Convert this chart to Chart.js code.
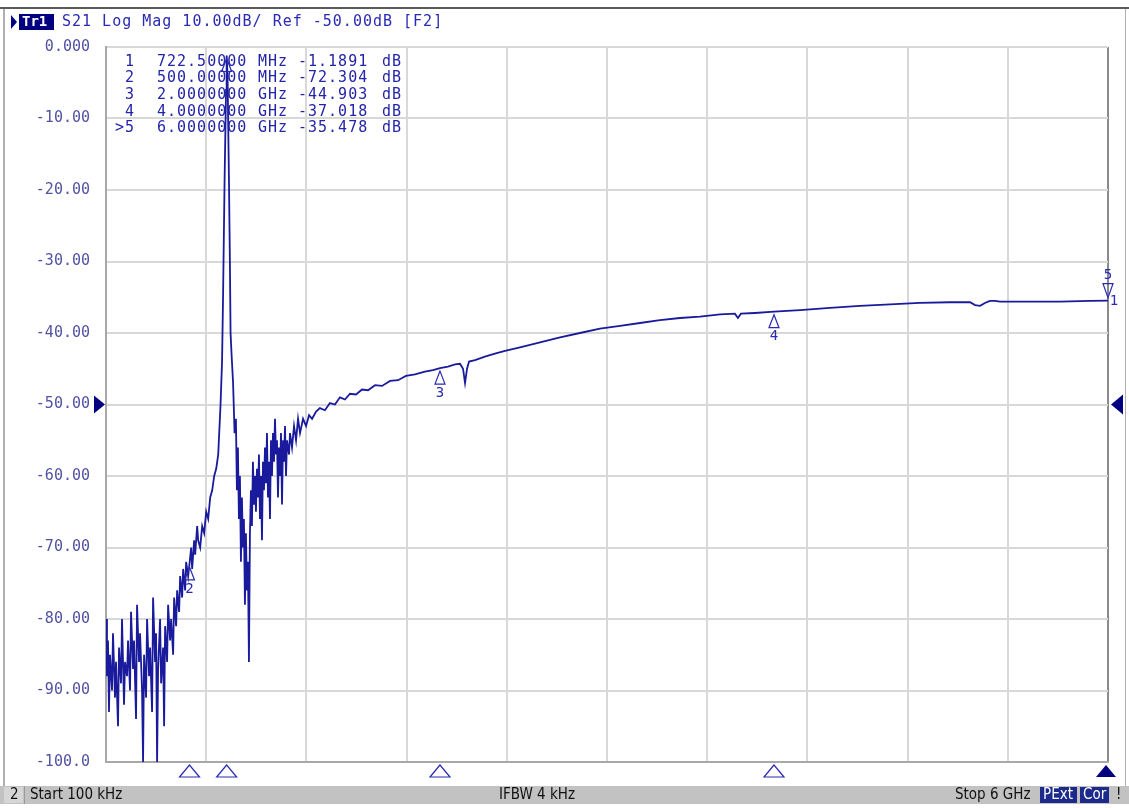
<!DOCTYPE html>
<html>
<head>
<meta charset="utf-8">
<script src="https://cdn.jsdelivr.net/npm/chart.js@4.4.1/dist/chart.umd.min.js"></script>
<style>
  html, body { margin: 0; padding: 0; background: #fff; }
  canvas { display: block; }
</style>
</head>
<body>
<canvas id="vna" width="1129" height="808"></canvas>
<script>
// S21 sweep, 100 kHz .. 6 GHz (frequency in MHz, magnitude in dB)
const freqMHz = [
  0.1, 6, 12, 18, 24, 36, 42, 54, 60, 72,
  78, 90, 96, 108, 114, 126, 132, 144, 150, 162,
  168, 180, 186, 198, 204, 216, 222, 228, 240, 246,
  258, 264, 276, 282, 294, 300, 306, 312, 324, 330,
  342, 348, 354, 366, 372, 384, 390, 402, 408, 420,
  426, 438, 444, 456, 462, 474, 480, 492, 500, 510,
  516, 528, 534, 546, 552, 564, 576, 588, 600, 612,
  624, 636, 648, 660, 672, 678, 686, 695, 701, 710,
  719, 722.5, 728, 736, 742, 746, 752, 761, 770, 778,
  784, 790, 796, 802, 808, 814, 820, 826, 832, 838,
  844, 850, 856, 862, 868, 874, 880, 886, 892, 898,
  904, 910, 916, 922, 928, 934, 940, 946, 952, 958,
  964, 970, 976, 982, 988, 994, 1000, 1006, 1012, 1018,
  1024, 1030, 1036, 1042, 1048, 1054, 1060, 1066, 1072, 1078,
  1084, 1096, 1102, 1114, 1126, 1138, 1150, 1162, 1180, 1198,
  1216, 1234, 1258, 1281, 1311, 1341, 1371, 1401, 1431, 1461,
  1497, 1533, 1569, 1611, 1653, 1701, 1749, 1796, 1850, 1910,
  1958, 2000, 2048, 2090, 2120, 2138, 2150, 2162, 2174, 2210,
  2269, 2329, 2389, 2479, 2599, 2719, 2838, 2958, 3078, 3198,
  3317, 3437, 3557, 3677, 3766, 3784, 3802, 3886, 4000, 4156,
  4335, 4515, 4695, 4874, 5054, 5174, 5204, 5234, 5263, 5293,
  5323, 5353, 5533, 5713, 5892, 6000
];
const s21dB = [
  -80, -88, -83, -93, -85, -90, -82, -91, -86, -95,
  -84, -89, -80, -92, -86, -88, -83, -90, -79, -87,
  -83, -94, -78, -86, -82, -90, -100, -85, -91, -80,
  -88, -84, -93, -77, -86, -82, -100, -87, -80, -89,
  -84, -95, -81, -86, -78, -83, -80, -85, -77, -81,
  -76, -79, -74, -77, -73, -76, -72, -74, -72.3, -70,
  -73, -69, -71, -67, -69, -70, -67, -68, -65, -66,
  -63, -62, -60, -59, -57, -54, -50, -44, -35, -19,
  -6, -1.19, -4, -18, -30, -40, -43, -47, -54, -52,
  -62, -56, -66, -60, -72, -63, -70, -66, -78, -68,
  -76, -72, -86, -68, -62, -67, -58, -64, -60, -65,
  -59, -63, -57, -66, -60, -69, -58, -62, -56, -61,
  -54, -63, -58, -66, -55, -60, -54, -58, -52, -57,
  -55, -63, -56, -60, -54, -64, -55, -58, -53, -60,
  -55, -57, -54, -56, -53, -55, -52, -54, -52, -53,
  -51.5, -52, -51, -50.5, -50.8, -49.8, -50, -49, -49.3, -48.5,
  -48.6, -47.9, -48, -47.3, -47.4, -46.7, -46.6, -46, -45.8, -45.4,
  -45.2, -44.9, -44.7, -44.4, -44.3, -45, -47, -45, -44, -43.8,
  -43.3, -42.9, -42.5, -42, -41.3, -40.6, -40, -39.4, -39, -38.6,
  -38.2, -37.9, -37.7, -37.4, -37.3, -37.9, -37.3, -37.2, -37.02, -36.8,
  -36.5, -36.2, -36, -35.8, -35.7, -35.7, -36.1, -36.2, -35.8, -35.5,
  -35.5, -35.6, -35.6, -35.6, -35.5, -35.478
];

// axis
const xGridMHz = [0.1, 600, 1200, 1800, 2400, 3000, 3600, 4200, 4800, 5400, 6000];
const yTickLabels = ['0.000', '-10.00', '-20.00', '-30.00', '-40.00', '-50.00',
                     '-60.00', '-70.00', '-80.00', '-90.00', '-100.0'];
const refLevelDB = -50;

// markers
const markerNo  = ['1', '2', '3', '4', '5'];
const markerMHz = [722.5, 500, 2000, 4000, 6000];
const markerDB  = [-1.1891, -72.304, -44.903, -37.018, -35.478];
const markerFreqText = ['722.50000', '500.00000', '2.0000000', '4.0000000', '6.0000000'];
const markerUnit = ['MHz', 'MHz', 'GHz', 'GHz', 'GHz'];
const activeMarker = 4;

const headerText = 'S21 Log Mag 10.00dB/ Ref -50.00dB [F2]';
const statusTexts = { ch: '2', start: 'Start 100 kHz', ifbw: 'IFBW 4 kHz', stop: 'Stop 6 GHz' };

const TRACE = '#1a1a9c';
const MONO = '"DejaVu Sans Mono", monospace';
const NARROW = '"Liberation Sans Narrow", "DejaVu Sans Condensed", sans-serif';

function tri(ctx, pts, fill) {
  ctx.beginPath();
  ctx.moveTo(pts[0], pts[1]);
  ctx.lineTo(pts[2], pts[3]);
  ctx.lineTo(pts[4], pts[5]);
  ctx.closePath();
  if (fill) { ctx.fill(); } else { ctx.stroke(); }
}

const vnaScreen = {
  id: 'vnaScreen',
  beforeDraw(chart) {
    const ctx = chart.ctx;
    ctx.save();
    ctx.fillStyle = '#fff';
    ctx.fillRect(0, 0, chart.width, chart.height);

    // window frame
    ctx.fillStyle = '#5a5a5a';
    ctx.fillRect(0, 7, chart.width, 2);
    ctx.fillStyle = '#b0b0b0';
    ctx.fillRect(3, 9, 2, 777);
    ctx.fillRect(1125, 9, 1, 777);

    // header: trace tag + settings
    ctx.fillStyle = '#000080';
    tri(ctx, [11, 15, 11, 29, 17, 22], true);
    ctx.fillRect(19, 14, 35, 16);
    ctx.font = 'bold 14px ' + MONO;
    ctx.textBaseline = 'middle';
    ctx.fillStyle = '#fff';
    ctx.fillText('Tr1', 22, 22.5);
    ctx.font = '15px ' + MONO;
    ctx.letterSpacing = '1px';
    ctx.fillStyle = '#2a2ab4';
    ctx.fillText(headerText, 62, 22.5);
    ctx.restore();
  },
  beforeDatasetsDraw(chart) {
    // marker readout table
    const ctx = chart.ctx;
    ctx.save();
    ctx.font = '15px ' + MONO;
    ctx.letterSpacing = '1px';
    ctx.textBaseline = 'middle';
    ctx.fillStyle = '#2424a8';
    markerNo.forEach((n, i) => {
      const y = 62 + i * 16.6;
      ctx.textAlign = 'right';
      ctx.fillText(i === activeMarker ? '>' + n : n, 135, y);
      ctx.textAlign = 'left';
      ctx.fillText(markerFreqText[i], 157, y);
      ctx.fillText(markerUnit[i], 258, y);
      ctx.fillText(markerDB[i].toFixed(markerDB[i] > -10 ? 4 : 3), 298, y);
      ctx.fillText('dB', 382, y);
    });
    ctx.restore();
  },
  afterDraw(chart) {
    const ctx = chart.ctx;
    const xs = chart.scales.x, ys = chart.scales.y;
    const area = chart.chartArea;
    ctx.save();
    ctx.strokeStyle = '#2a2ab4';
    ctx.fillStyle = '#2a2ab4';
    ctx.lineWidth = 1.2;
    ctx.font = '14px ' + MONO;
    ctx.textAlign = 'center';
    ctx.textBaseline = 'middle';

    // markers on the trace
    markerNo.forEach((n, i) => {
      const x = xs.getPixelForValue(markerMHz[i]);
      const y = ys.getPixelForValue(markerDB[i]);
      if (i === activeMarker) {
        tri(ctx, [x - 5, y - 17, x + 5, y - 17, x, y - 3], false);
        ctx.fillText(n, x, y - 25);
        ctx.fillText(markerNo[0], x + 6, y + 1);
      } else {
        tri(ctx, [x, y + 3, x - 5, y + 16, x + 5, y + 16], false);
        if (i > 0) ctx.fillText(n, x, y + 25);
      }
    });

    // stimulus markers under the grid
    markerMHz.forEach((f, i) => {
      const x = Math.min(xs.getPixelForValue(f), area.right - 2);
      const top = area.bottom + 3, bot = area.bottom + 15;
      if (i === activeMarker) {
        ctx.fillStyle = '#000080';
        tri(ctx, [x, top, x - 10, bot, x + 10, bot], true);
        ctx.fillStyle = '#2a2ab4';
      } else {
        tri(ctx, [x, top, x - 10, bot, x + 10, bot], false);
      }
    });

    // reference level arrows
    const ry = ys.getPixelForValue(refLevelDB);
    ctx.fillStyle = '#000080';
    tri(ctx, [area.left - 12, ry - 9, area.left - 12, ry + 9, area.left - 1, ry], true);
    tri(ctx, [area.right + 15, ry - 10, area.right + 15, ry + 10, area.right + 3, ry], true);

    // status bar
    const sy = 786, sh = 18;
    ctx.fillStyle = '#c2c2c2';
    ctx.fillRect(0, sy, chart.width, sh);
    ctx.fillStyle = '#d6d6d6';
    ctx.fillRect(4, sy + 1, 19, sh - 2);
    ctx.fillStyle = '#9a9a9a';
    ctx.fillRect(24, sy, 1, sh);
    ctx.font = '15px ' + NARROW;
    ctx.textAlign = 'left';
    ctx.fillStyle = '#111';
    ctx.fillText(statusTexts.ch, 10, sy + 9.5);
    ctx.fillText(statusTexts.start, 30, sy + 9.5);
    ctx.fillText(statusTexts.ifbw, 499, sy + 9.5);
    ctx.fillText(statusTexts.stop, 955, sy + 9.5);
    ctx.fillStyle = '#1c2a8c';
    ctx.fillRect(1040, sy + 1, 37, sh - 2);
    ctx.fillRect(1080, sy + 1, 29, sh - 2);
    ctx.fillStyle = '#fff';
    ctx.fillText('PExt', 1043, sy + 9.5);
    ctx.fillText('Cor', 1083, sy + 9.5);
    ctx.fillStyle = '#111';
    ctx.fillText('!', 1116, sy + 9.5);
    ctx.restore();
  }
};

new Chart(document.getElementById('vna'), {
  type: 'line',
  data: {
    labels: freqMHz,
    datasets: [{
      data: freqMHz.map((f, i) => ({ x: f, y: s21dB[i] })),
      borderColor: TRACE,
      borderWidth: 1.8,
      pointRadius: 0,
      tension: 0,
      fill: false
    }]
  },
  options: {
    responsive: false,
    devicePixelRatio: 1,
    animation: false,
    events: [],
    layout: { padding: { left: 0, top: 47, right: 21, bottom: 46 } },
    plugins: { legend: { display: false }, tooltip: { enabled: false } },
    scales: {
      x: {
        type: 'linear',
        min: xGridMHz[0],
        max: xGridMHz[xGridMHz.length - 1],
        afterBuildTicks: s => { s.ticks = xGridMHz.map(v => ({ value: v })); },
        afterFit: s => { s.height = 0; },
        ticks: { display: false },
        grid: {
          drawTicks: false,
          lineWidth: 2,
          color: c => (c.index === xGridMHz.length - 1 ? '#8a8a8a' : '#d8d8d8')
        },
        border: { color: '#a8a8a8', width: 2 }
      },
      y: {
        min: -100,
        max: 0,
        afterFit: s => { s.width = 106; },
        ticks: {
          stepSize: 10,
          padding: 16,
          color: '#5252a2',
          font: { family: MONO, size: 15 },
          callback: v => yTickLabels[Math.round(-v / 10)]
        },
        grid: { drawTicks: false, lineWidth: 2, color: '#d8d8d8' },
        border: { color: '#a8a8a8', width: 2 }
      }
    }
  },
  plugins: [vnaScreen]
});
</script>
</body>
</html>
